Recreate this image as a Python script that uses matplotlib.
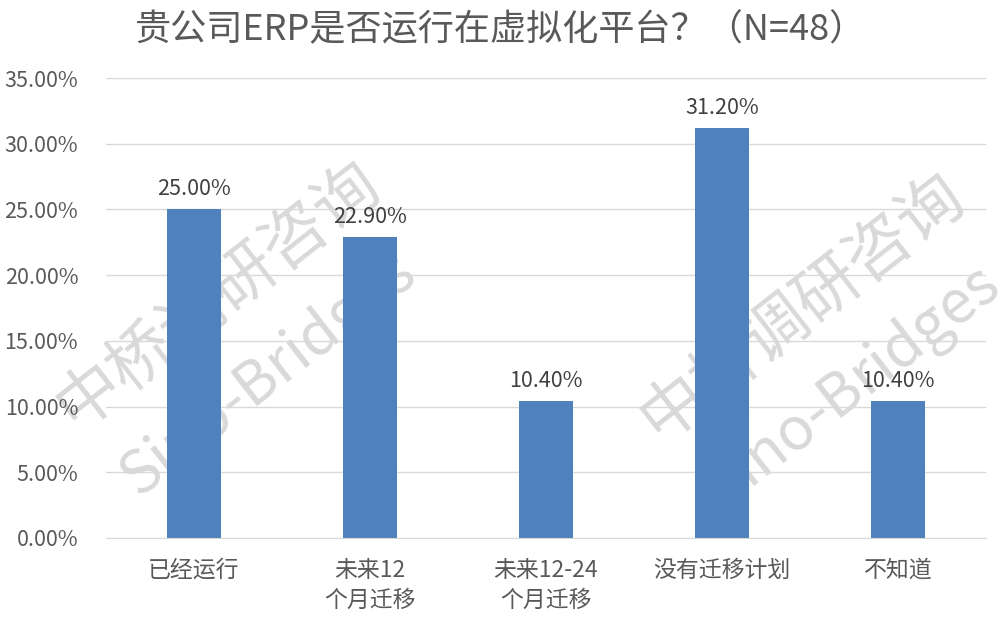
import matplotlib
matplotlib.use("Agg")
import matplotlib.pyplot as plt
from matplotlib.ticker import FuncFormatter, MultipleLocator

plt.rcParams['font.family'] = ['Noto Sans CJK SC', 'DejaVu Sans']

# 数据
categories = ["已经运行", "未来12\n个月迁移", "未来12-24\n个月迁移", "没有迁移计划", "不知道"]
values = [25.00, 22.90, 10.40, 31.20, 10.40]
title = "贵公司ERP是否运行在虚拟化平台？（N=48）"

fig = plt.figure(figsize=(10.01, 6.19), dpi=100)
ax = fig.add_axes([106/1001, 81/619, 880/1001, 460/619])
ax.patch.set_alpha(0)

x = range(len(categories))
bars = ax.bar(x, values, width=0.31, color="#4F81BD", zorder=3)

for xi, v in zip(x, values):
    ax.text(xi, v + 0.7, "%.2f%%" % v, ha="center", va="bottom",
            fontsize=15.5, color="#404040", zorder=4)

ax.set_ylim(0, 35)
ax.set_xlim(-0.5, len(categories) - 0.5)
ax.yaxis.set_major_locator(MultipleLocator(5))
ax.yaxis.set_major_formatter(FuncFormatter(lambda v, p: "%.2f%%" % v))
ax.grid(axis="y", color="#d9d9d9", linewidth=1, zorder=1)
ax.set_axisbelow(True)

ax.set_xticks(list(x))
ax.set_xticklabels(categories, linespacing=1.4)
ax.tick_params(axis="x", length=0, pad=15, labelsize=16.5, labelcolor="#595959")
ax.tick_params(axis="y", length=0, pad=20, labelsize=15.5, labelcolor="#595959")
for s in ["top", "right", "left"]:
    ax.spines[s].set_visible(False)
ax.spines["bottom"].set_color("#d9d9d9")
ax.spines["bottom"].set_zorder(4)

# 水印（右侧一份在原图中同样被边缘截断）
wm_color = "#d9d9d9"
for dx in [0, 584]:
    fig.text((218 + dx) / 1001, 1 - (295 + dx * 0.02) / 619, "中桥调研咨询",
             rotation=38, ha="center", va="center", fontsize=47,
             color=wm_color, zorder=-1)
    fig.text((268 + dx) / 1001, 1 - (375 + dx * 0.02) / 619, "Sino-Bridges",
             rotation=38, ha="center", va="center", fontsize=43,
             color=wm_color, zorder=-1)

fig.text(0.5, 1 - 30/619, title, ha="center", va="center", fontsize=26,
         color="#595959")

fig.savefig("out.png", dpi=100)
